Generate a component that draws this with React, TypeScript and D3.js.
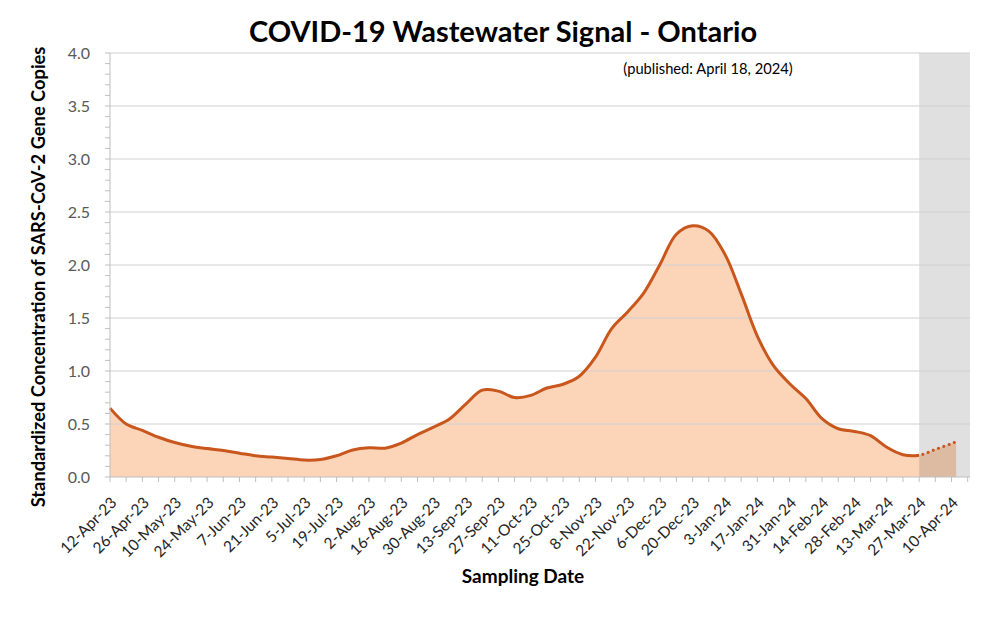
import React from "react";
import * as d3 from "d3";

const dates: string[] = [
  "2023-04-12","2023-04-19","2023-04-26","2023-05-03","2023-05-10","2023-05-17","2023-05-24","2023-05-31",
  "2023-06-07","2023-06-14","2023-06-21","2023-06-28","2023-07-05","2023-07-12","2023-07-19","2023-07-26",
  "2023-08-02","2023-08-09","2023-08-16","2023-08-23","2023-08-30","2023-09-06","2023-09-13","2023-09-20",
  "2023-09-27","2023-10-04","2023-10-11","2023-10-18","2023-10-25","2023-11-01","2023-11-08","2023-11-15",
  "2023-11-22","2023-11-29","2023-12-06","2023-12-13","2023-12-20","2023-12-27","2024-01-03","2024-01-10",
  "2024-01-17","2024-01-24","2024-01-31","2024-02-07","2024-02-14","2024-02-21","2024-02-28","2024-03-06",
  "2024-03-13","2024-03-20","2024-03-27","2024-04-03","2024-04-10","2024-04-12"
];
const values: number[] = [
  0.65,0.50,0.44,0.375,0.325,0.29,0.268,0.25,
  0.225,0.20,0.188,0.175,0.16,0.165,0.20,0.255,
  0.275,0.272,0.32,0.40,0.47,0.55,0.69,0.82,
  0.81,0.75,0.77,0.84,0.875,0.95,1.13,1.40,
  1.56,1.74,2.01,2.29,2.37,2.32,2.10,1.73,
  1.33,1.05,0.88,0.74,0.55,0.455,0.43,0.39,
  0.28,0.21,0.205,0.26,0.315,0.333
];
const provisionalStart = "2024-03-27";
const axisStart = "2023-04-12";
const axisEnd = "2024-04-18";
const yTicks: number[] = [0, 0.5, 1, 1.5, 2, 2.5, 3, 3.5, 4];
const title = "COVID-19 Wastewater Signal - Ontario";
const subtitle = "(published: April 18, 2024)";
const yTitle = "Standardized Concentration of SARS-CoV-2 Gene Copies";
const xTitle = "Sampling Date";

const W = 1002, H = 624;
const left = 110, right = 970, top = 53, bottom = 477;
const FONT = "Lato, 'Open Sans', sans-serif";

export default function App() {
  const parse = d3.timeParse("%Y-%m-%d");
  const data = dates.map((d, i) => ({ date: parse(d)!, value: values[i] }));
  const x = d3.scaleTime().domain([parse(axisStart)!, parse(axisEnd)!]).range([left, right]);
  const y = d3.scaleLinear().domain([0, 4]).range([bottom, top]);
  const curve = d3.curveCatmullRom.alpha(0.5);
  const line = d3.line<any>().x(d => x(d.date)).y(d => y(d.value)).curve(curve);
  const area = d3.area<any>().x(d => x(d.date)).y0(y(0)).y1(d => y(d.value)).curve(curve);
  const provX = x(parse(provisionalStart)!);

  const allWeeks = d3.range(0, 54).map(i => d3.timeDay.offset(parse(axisStart)!, i * 7)).filter(d => x(d) <= right + 0.5);
  const labelWeeks = allWeeks.filter((_, i) => i % 2 === 0);
  const fmt = (d: Date) => `${d.getDate()}-${d3.timeFormat("%b")(d)}-${d3.timeFormat("%y")(d)}`;
  const minor = d3.range(0, 41).map(i => i / 10);

  return (
    <svg width={W} height={H} style={{ position: "absolute", left: 0, top: 0, background: "#fff" }} fontFamily={FONT}>
      <defs>
        <clipPath id="solidClip"><rect x={0} y={0} width={provX} height={H} /></clipPath>
        <clipPath id="dotClip"><rect x={provX} y={0} width={W - provX} height={H} /></clipPath>
      </defs>
      <path d={area(data) ?? ""} fill="#FCD5B9" />
      <rect x={provX} y={top} width={right - provX} height={bottom - top} fill="#000" opacity={0.12} />
      {yTicks.filter(t => t > 0).map(t => (
        <line key={t} x1={left} x2={right} y1={y(t)} y2={y(t)} stroke="#D0D0D0" strokeWidth={1} />
      ))}
      <path d={line(data) ?? ""} fill="none" stroke="#C8561D" strokeWidth={3} clipPath="url(#solidClip)" strokeLinejoin="round" />
      <path d={line(data) ?? ""} fill="none" stroke="#C8561D" strokeWidth={3} strokeDasharray="0.1 5.5" strokeLinecap="round" clipPath="url(#dotClip)" />
      {/* y axis */}
      <line x1={left} x2={left} y1={top} y2={bottom} stroke="#BFBFBF" />
      {minor.map(t => (
        <line key={t} x1={left - 5} x2={left} y1={y(t)} y2={y(t)} stroke="#BFBFBF" />
      ))}
      {yTicks.map(t => (
        <text key={t} x={90} y={y(t)} dy="0.35em" textAnchor="end" fontSize={16} fill="#595959">{t.toFixed(1)}</text>
      ))}
      {/* x axis */}
      <line x1={left} x2={right} y1={bottom} y2={bottom} stroke="#BFBFBF" />
      {allWeeks.map((d, i) => (
        <line key={i} x1={x(d)} x2={x(d)} y1={bottom} y2={bottom + 5} stroke="#BFBFBF" />
      ))}
      {labelWeeks.map((d, i) => (
        <text key={i} transform={`translate(${x(d) + 0},${bottom + 19}) rotate(-45)`} textAnchor="end" dy="0.7em" fontSize={15.5} fill="#262626">{fmt(d)}</text>
      ))}
      <text x={503} y={42} textAnchor="middle" fontSize={29} fontWeight="bold" fill="#000">{title}</text>
      <text x={708} y={74} textAnchor="middle" fontSize={14.7} fill="#000">{subtitle}</text>
      <text transform={`translate(45,277) rotate(-90)`} textAnchor="middle" fontSize={18.3} fontWeight="bold" fill="#000">{yTitle}</text>
      <text x={523} y={583} textAnchor="middle" fontSize={19} fontWeight="bold" fill="#000">{xTitle}</text>
    </svg>
  );
}
